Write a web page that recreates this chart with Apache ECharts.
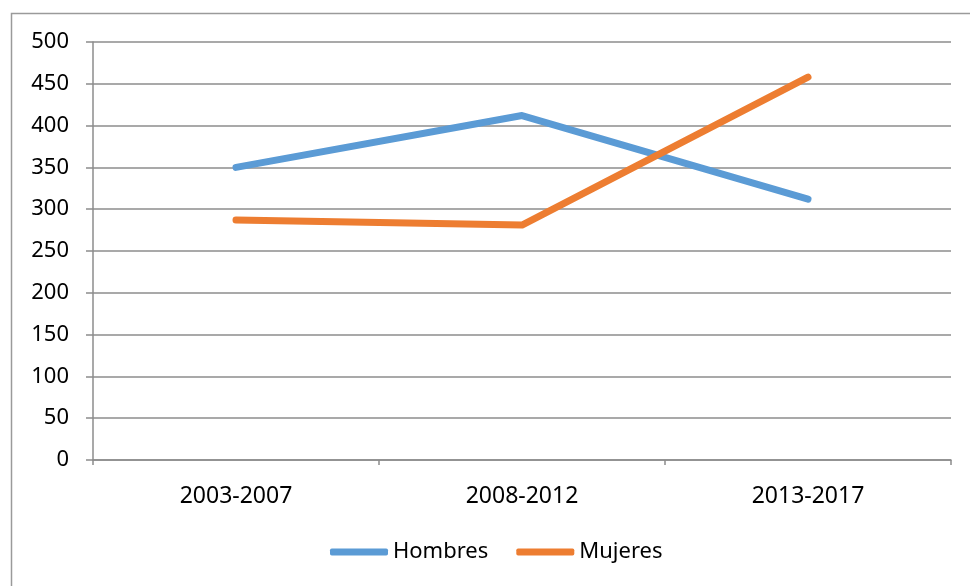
<!DOCTYPE html>
<html>
<head>
<meta charset="utf-8">
<script src="https://cdn.jsdelivr.net/npm/echarts@6/dist/echarts.min.js"></script>
<style>
  html, body { margin: 0; padding: 0; background: #fff; }
  #chart { width: 970px; height: 586px; }
</style>
</head>
<body>
<div id="chart"></div>
<script>
// Periods on the category axis
const periods = ['2003-2007', '2008-2012', '2013-2017'];
// Series values per period
const hombres = [350, 412, 312];
const mujeres = [287, 281, 458];
// Value axis range
const yMin = 0;
const yMax = 500;
const yStep = 50;

const FONT = 'Noto Sans';
const GRAY = '#8c8c8c';

const chart = echarts.init(document.getElementById('chart'), null, { renderer: 'canvas' });

chart.setOption({
  animation: false,
  backgroundColor: '#ffffff',
  graphic: [{
    type: 'rect',
    shape: { x: 11.5, y: 13.5, width: 1200, height: 1200 },
    style: { fill: 'none', stroke: '#9a9a9a', lineWidth: 1.5 },
    z: -1
  }],
  grid: { left: 93, top: 42, right: 19, bottom: 126, containLabel: false },
  legend: {
    left: 330,
    top: 541,
    padding: 0,
    icon: 'roundRect',
    itemWidth: 58,
    itemHeight: 7,
    itemGap: 28,
    textStyle: { fontFamily: FONT, fontSize: 22, color: '#000' },
    data: ['Hombres', 'Mujeres']
  },
  xAxis: {
    type: 'category',
    data: periods,
    boundaryGap: true,
    axisLine: { lineStyle: { color: GRAY, width: 1.5 } },
    axisTick: { show: true, length: 5, interval: 0, lineStyle: { color: GRAY, width: 1.5 } },
    axisLabel: { margin: 25, fontFamily: FONT, fontSize: 23, color: '#000' },
    splitLine: { show: false }
  },
  yAxis: {
    type: 'value',
    min: yMin,
    max: yMax,
    interval: yStep,
    axisLine: { show: true, lineStyle: { color: GRAY, width: 1.5 } },
    axisTick: { show: true, length: 7, lineStyle: { color: GRAY, width: 1.5 } },
    axisLabel: { margin: 24, fontFamily: FONT, fontSize: 22, color: '#000' },
    splitLine: { show: true, lineStyle: { color: GRAY, width: 1.5 } }
  },
  series: [
    {
      name: 'Hombres',
      type: 'line',
      data: hombres,
      symbol: 'none',
      color: '#5B9BD5',
      lineStyle: { width: 7, cap: 'round', join: 'round' }
    },
    {
      name: 'Mujeres',
      type: 'line',
      data: mujeres,
      symbol: 'none',
      color: '#ED7D31',
      lineStyle: { width: 7, cap: 'round', join: 'round' }
    }
  ]
});
</script>
</body>
</html>
